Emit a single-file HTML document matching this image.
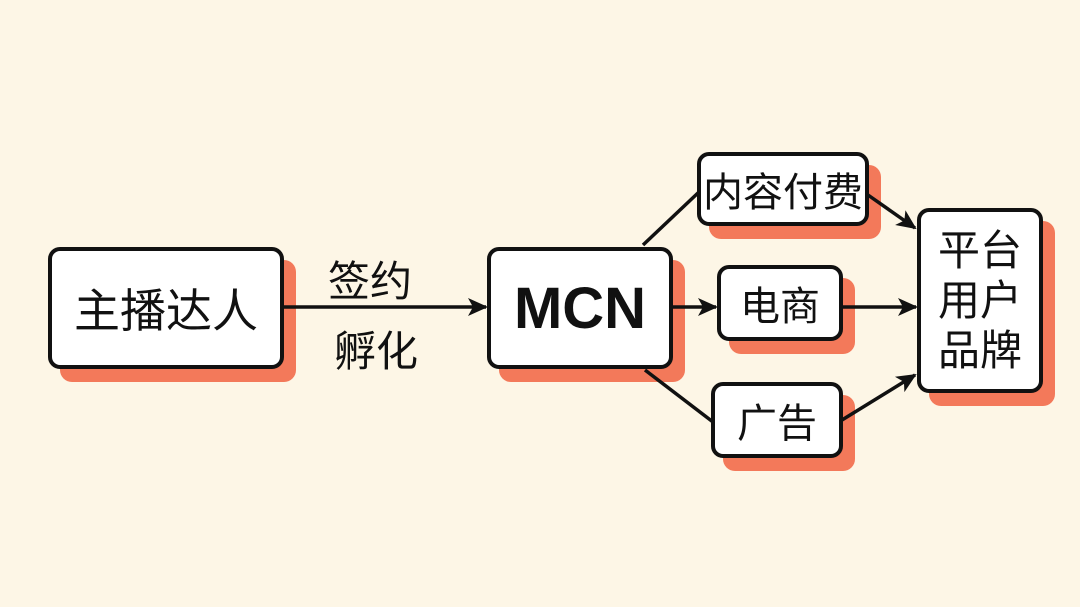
<!DOCTYPE html>
<html><head><meta charset="utf-8"><style>
body{margin:0;width:1080px;height:607px;background:#fdf6e6;overflow:hidden;position:relative;font-family:"Liberation Sans","Noto Sans CJK SC",sans-serif;}
.s{position:absolute;background:#f3795a;border-radius:12px;}
.b{position:absolute;background:#fff;border:4px solid #111;border-radius:12px;box-sizing:border-box;display:flex;align-items:center;justify-content:center;color:#111;}
.t{position:absolute;font-size:42px;color:#111;}
svg{position:absolute;left:0;top:0;}
</style></head><body>
<div class="s" style="left:60px;top:260px;width:236px;height:122px;"></div>
<div class="s" style="left:499px;top:260px;width:186px;height:122px;"></div>
<div class="s" style="left:709px;top:165px;width:172px;height:74px;"></div>
<div class="s" style="left:729px;top:278px;width:126px;height:76px;"></div>
<div class="s" style="left:723px;top:395px;width:132px;height:76px;"></div>
<div class="s" style="left:929px;top:221px;width:126px;height:185px;"></div>
<svg width="1080" height="607">
<defs><marker id="m" markerWidth="24" markerHeight="24" refX="20" refY="12" orient="auto" markerUnits="userSpaceOnUse"><path d="M2,3 L22,12 L2,21 L7,12 Z" fill="#111"/></marker></defs>
<g stroke="#111" stroke-width="3.5" fill="none">
<line x1="283" y1="307" x2="486" y2="307" marker-end="url(#m)"/>
<line x1="643" y1="245" x2="699" y2="192"/>
<line x1="672" y1="307" x2="716" y2="307" marker-end="url(#m)"/>
<line x1="645" y1="370" x2="713" y2="422"/>
<line x1="868" y1="195" x2="915" y2="228" marker-end="url(#m)"/>
<line x1="842" y1="307" x2="916" y2="307" marker-end="url(#m)"/>
<line x1="842" y1="420" x2="915" y2="375" marker-end="url(#m)"/>
</g></svg>
<div class="b" style="left:48px;top:247px;width:236px;height:122px;font-size:46px;">主播达人</div>
<div class="t" style="left:328px;top:248px;">签约</div>
<div class="t" style="left:334px;top:318px;">孵化</div>
<div class="b" style="left:487px;top:247px;width:186px;height:122px;font-size:58px;font-weight:bold;">MCN</div>
<div class="b" style="left:697px;top:152px;width:172px;height:74px;font-size:40px;">内容付费</div>
<div class="b" style="left:717px;top:265px;width:126px;height:76px;font-size:40px;">电商</div>
<div class="b" style="left:711px;top:382px;width:132px;height:76px;font-size:40px;">广告</div>
<div class="b" style="left:917px;top:208px;width:126px;height:185px;font-size:42px;line-height:50px;text-align:center;">平台<br>用户<br>品牌</div>
</body></html>
